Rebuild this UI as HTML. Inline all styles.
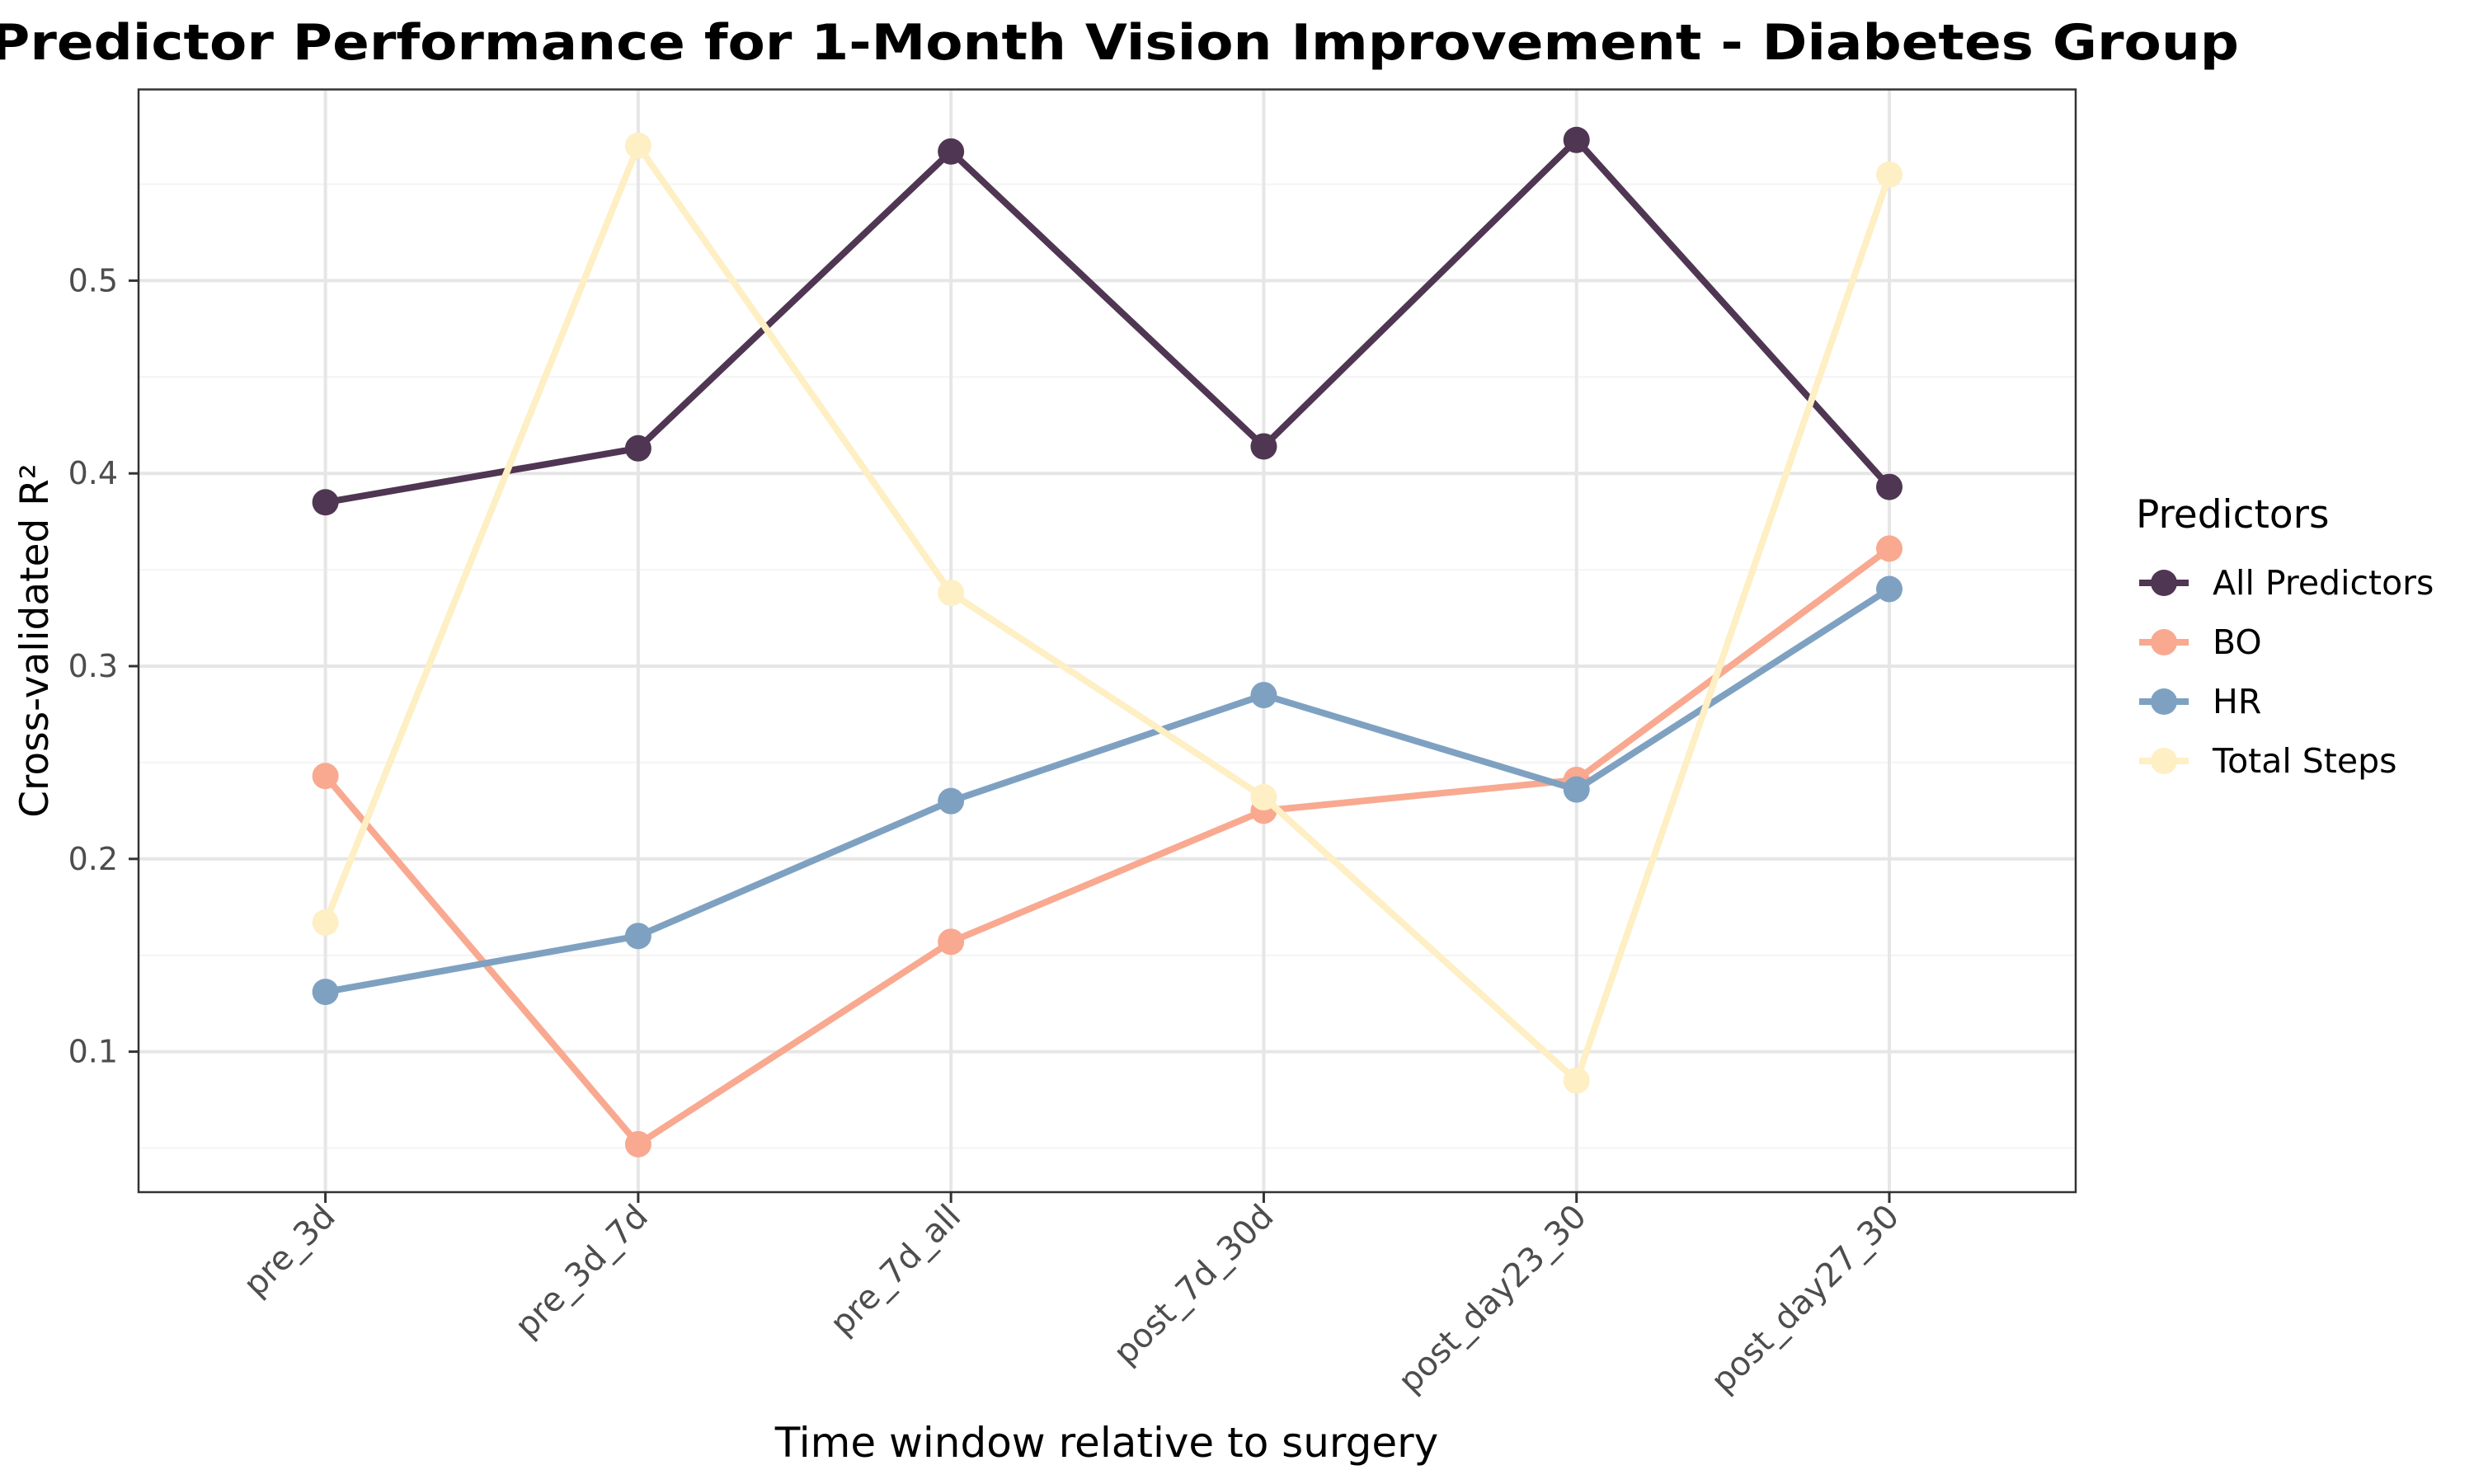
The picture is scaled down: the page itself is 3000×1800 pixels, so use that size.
<!DOCTYPE html>
<html><head><meta charset="utf-8"><style>
html,body{margin:0;padding:0;background:#fff;}
svg{display:block;font-family:"DejaVu Sans","Liberation Sans",sans-serif;}
</style></head><body>
<svg id="chart" width="3000" height="1800" viewBox="0 0 3000 1800">
<text x="-12" y="72" font-size="60" font-weight="bold" textLength="2727" lengthAdjust="spacingAndGlyphs">Predictor Performance for 1-Month Vision Improvement - Diabetes Group</text>
<g id="grid"></g>
<g id="series"></g>
<rect x="168" y="108.5" width="2349" height="1337.5" fill="none" stroke="#333" stroke-width="2.5"/>
<g id="axes"></g>
<text x="1342" y="1767" font-size="50" text-anchor="middle">Time window relative to surgery</text>
<text transform="translate(58,777) rotate(-90)" font-size="47" text-anchor="middle">Cross-validated R²</text>
<g id="legend">
<text x="2590" y="640" font-size="47">Predictors</text>
</g>
</svg>
<script>
const categories = ["pre_3d","pre_3d_7d","pre_7d_all","post_7d_30d","post_day23_30","post_day27_30"];
const seriesNames = ["All Predictors","BO","HR","Total Steps"];
const allPredictors = [0.385,0.413,0.567,0.414,0.573,0.393];
const bo = [0.243,0.052,0.157,0.225,0.241,0.361];
const hr = [0.131,0.160,0.230,0.285,0.236,0.340];
const totalSteps = [0.167,0.570,0.338,0.232,0.085,0.555];
const yTicks = [0.1,0.2,0.3,0.4,0.5];
const yTickLabels = ["0.1","0.2","0.3","0.4","0.5"];
const yMinor = [0.05,0.15,0.25,0.35,0.45,0.55];

const NS="http://www.w3.org/2000/svg";
const colors=["#4f3652","#f8a990","#7fa1c1","#feefc4"];
const x0=394.6, x1=2291;
function xs(i){return x0+(x1-x0)*i/(categories.length-1);}
function ys(v){return 1275.6-(v-0.1)*2338;}
function mk(tag,attrs,parent){const e=document.createElementNS(NS,tag);for(const k in attrs)e.setAttribute(k,attrs[k]);parent.appendChild(e);return e;}
const grid=document.getElementById('grid'), axes=document.getElementById('axes'), ser=document.getElementById('series'), leg=document.getElementById('legend');

yMinor.forEach(v=>{
  const l=mk('line',{x1:168,x2:2517,y1:ys(v),y2:ys(v),stroke:'#f4f4f4','stroke-width':2},grid);
  
  
});
yTicks.forEach((v,i)=>{
  const l=mk('line',{x1:168,x2:2517,y1:ys(v),y2:ys(v),stroke:'#e6e6e6','stroke-width':4},grid);
  
  
  const t=mk('line',{x1:156,x2:168,y1:ys(v),y2:ys(v),stroke:'#333','stroke-width':3},axes);
  
  
  const tx=mk('text',{x:143,y:ys(v)+13,'font-size':38,'text-anchor':'end',fill:'#4d4d4d'},axes);
  tx.textContent=yTickLabels[i];
  
  
});
categories.forEach((c,i)=>{
  const l=mk('line',{x1:xs(i),x2:xs(i),y1:108.5,y2:1446,stroke:'#e6e6e6','stroke-width':4},grid);
  
  
  const t=mk('line',{x1:xs(i),x2:xs(i),y1:1446,y2:1459,stroke:'#333','stroke-width':3},axes);
  
  
  const tx=mk('text',{transform:`translate(${xs(i)+14},${1478}) rotate(-45)`,'font-size':40,'text-anchor':'end',fill:'#4d4d4d'},axes);
  tx.textContent=c;
  
  
});
const data=[allPredictors,bo,hr,totalSteps];
[0,1,2,3].forEach(s=>{
  const vals=data[s];
  const pts=vals.map((v,i)=>xs(i)+','+ys(v)).join(' ');
  const pl=mk('polyline',{points:pts,fill:'none',stroke:colors[s],'stroke-width':8,'stroke-linejoin':'round'},ser);
  
  
  vals.forEach((v,i)=>{
    const c=mk('circle',{cx:xs(i),cy:ys(v),r:16,fill:colors[s]},ser);
    
    
  });
});
seriesNames.forEach((n,s)=>{
  const y=707+s*72;
  const g=mk('g',{},leg);
  
  
  mk('line',{x1:2594,x2:2654,y1:y,y2:y,stroke:colors[s],'stroke-width':8},g);
  mk('circle',{cx:2624,cy:y,r:16,fill:colors[s]},g);
  const t=mk('text',{x:2683,y:y+14,'font-size':41},g);
  t.textContent=n;
});
</script>
</body></html>
